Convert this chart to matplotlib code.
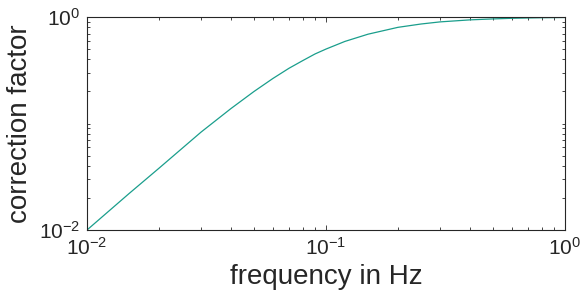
import matplotlib
matplotlib.use("Agg")
import matplotlib.pyplot as plt
from matplotlib.ticker import FixedLocator, LogLocator, LogFormatterMathtext, NullFormatter

plt.rcParams['font.family'] = ['Liberation Sans', 'DejaVu Sans']
plt.rcParams['mathtext.default'] = 'regular'

# values
frequency = [0.01, 0.015, 0.02, 0.03, 0.04, 0.05, 0.06, 0.07, 0.08, 0.09, 0.1,
             0.12, 0.15, 0.2, 0.25, 0.3, 0.4, 0.5, 0.6, 0.7, 0.8, 1.0]
correction = [0.0100, 0.022, 0.038, 0.083, 0.138, 0.200, 0.265, 0.33, 0.39, 0.45, 0.50,
              0.59, 0.69, 0.80, 0.86, 0.90, 0.94, 0.96, 0.973, 0.98, 0.985, 0.99]
x_major = [1e-2, 1e-1, 1e0]
y_major = [1e-2, 1e0]

fig = plt.figure(figsize=(5.8, 3.04), dpi=100)
ax = fig.add_axes([0.150, 0.2434, 0.824, 0.7006])
ax.plot(frequency, correction, color='#1a9e8c', lw=0.9)
ax.set_xscale('log')
ax.set_yscale('log')
ax.set_xlim(1e-2, 1e0)
ax.set_ylim(1e-2, 1e0)

ax.xaxis.set_major_locator(FixedLocator(x_major))
ax.yaxis.set_major_locator(FixedLocator(y_major))
ax.xaxis.set_minor_locator(LogLocator(base=10, subs=range(1, 10), numticks=20))
ax.yaxis.set_minor_locator(LogLocator(base=10, subs=range(1, 10), numticks=20))
ax.xaxis.set_major_formatter(LogFormatterMathtext())
ax.yaxis.set_major_formatter(LogFormatterMathtext())
ax.xaxis.set_minor_formatter(NullFormatter())
ax.yaxis.set_minor_formatter(NullFormatter())

for s in ax.spines.values():
    s.set_color('#262626')
    s.set_linewidth(0.8)
ax.tick_params(which='both', direction='in', top=True, right=True, colors='#262626',
               width=0.6, labelsize=15, labelcolor='#262626')
ax.tick_params(which='major', length=3.5, pad=5)
ax.tick_params(which='minor', length=2)

ax.set_xlabel('frequency in Hz', fontsize=20, color='#262626', labelpad=4)
ax.set_ylabel('correction factor', fontsize=20, color='#262626', labelpad=4)

fig.savefig('out.png', dpi=100, facecolor='white')
